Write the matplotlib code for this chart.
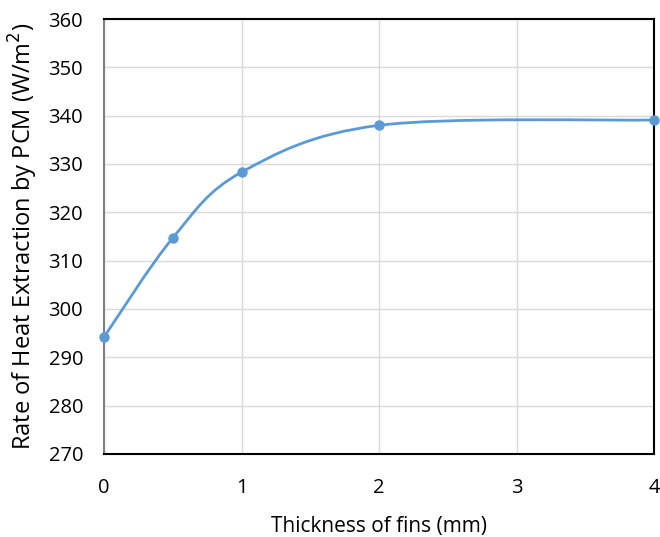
import numpy as np
import matplotlib.pyplot as plt
from matplotlib.path import Path
from matplotlib.patches import PathPatch

# data
thickness = [0, 0.5, 1, 2, 4]
heat_rate = [294.2, 314.7, 328.3, 338.0, 339.1]

line_color = '#5B9BD5'


def smooth_path(xs, ys):
    """Excel-like smoothed line: cubic Bezier segments through the points."""
    pts = np.column_stack([xs, ys]).astype(float)
    n = len(pts)
    verts = [pts[0]]
    codes = [Path.MOVETO]
    for i in range(n - 1):
        p0 = pts[i - 1] if i > 0 else pts[i]
        p1 = pts[i]
        p2 = pts[i + 1]
        p3 = pts[i + 2] if i + 2 < n else pts[i + 1]
        c1 = p1 + (p2 - p0) / 6.0
        c2 = p2 - (p3 - p1) / 6.0
        verts += [c1, c2, p2]
        codes += [Path.CURVE4] * 3
    return Path(verts, codes)


plt.rcParams['font.family'] = ['Open Sans', 'DejaVu Sans']

fig = plt.figure(figsize=(6.6, 5.37), dpi=100)
ax = fig.add_axes([0.1576, 0.1546, 0.8334, 0.81])

ax.add_patch(PathPatch(smooth_path(thickness, heat_rate), facecolor='none',
                       edgecolor=line_color, lw=2, zorder=3))
ax.plot(thickness, heat_rate, 'o', color=line_color, ms=6.5, zorder=4,
        clip_on=False)

ax.set_xlim(0, 4)
ax.set_ylim(270, 360)
ax.set_xticks([0, 1, 2, 3, 4])
ax.set_yticks(np.arange(270, 361, 10))
ax.grid(True, color='#D9D9D9', lw=1)
ax.set_axisbelow(True)
ax.tick_params(axis='x', length=0, labelsize=14.5, pad=17)
ax.tick_params(axis='y', length=0, labelsize=14.5, pad=15)

for s in ax.spines.values():
    s.set_color('black')
    s.set_linewidth(1.5)
ax.spines['left'].set_color('#808080')

ax.set_xlabel('Thickness of fins (mm)', fontsize=15, labelpad=13)
ax.set_ylabel('Rate of Heat Extraction by PCM (W/m$^2$)', fontsize=17,
              labelpad=6)

fig.savefig('out.png', dpi=100)
